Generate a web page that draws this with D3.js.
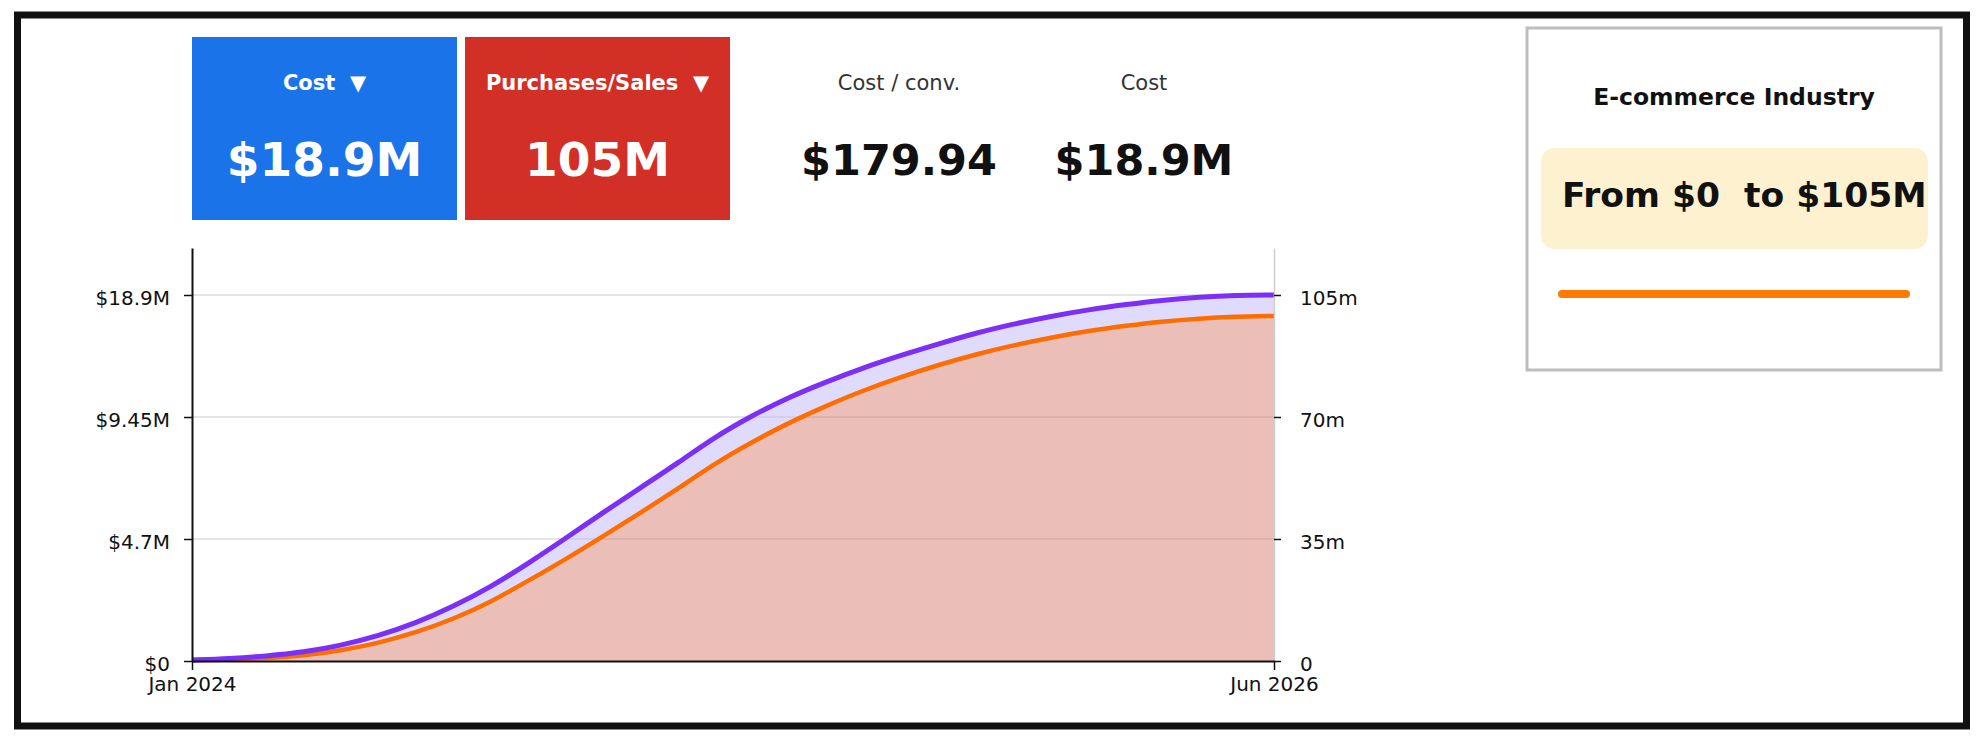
<!DOCTYPE html>
<html>
<head>
<meta charset="utf-8">
<script src="https://cdn.jsdelivr.net/npm/d3@7/dist/d3.min.js"></script>
<style>
  html, body { margin: 0; padding: 0; background: #fff; }
  svg { display: block; font-family: "DejaVu Sans", sans-serif; }
</style>
</head>
<body>
<svg id="chart" width="1980" height="739"></svg>
<script>
/* ============================================
   DATA
   ============================================ */

const months = [
  "2024-01", "2024-02", "2024-03", "2024-04", "2024-05", "2024-06",
  "2024-07", "2024-08", "2024-09", "2024-10", "2024-11", "2024-12",
  "2025-01", "2025-02", "2025-03", "2025-04", "2025-05", "2025-06",
  "2025-07", "2025-08", "2025-09", "2025-10", "2025-11", "2025-12",
  "2026-01", "2026-02", "2026-03", "2026-04", "2026-05", "2026-06"
];

// purple line, right axis (millions)
const purchases = [
  0.3, 0.7, 1.4, 2.5, 4.4, 7.2, 10.8, 15.6, 21.3, 28,
  35.3, 42.6, 49.8, 57, 64, 70.3, 75.6, 80.1, 84.1, 87.7,
  91, 94.1, 96.7, 98.9, 100.8, 102.3, 103.5, 104.4, 104.9, 105
];

// orange line, left axis ($M)
const cost = [
  0.05, 0.07, 0.14, 0.27, 0.54, 0.92, 1.46, 2.16, 3.06, 4.14,
  5.27, 6.44, 7.67, 8.93, 10.15, 11.29, 12.29, 13.18, 13.97, 14.67,
  15.3, 15.84, 16.31, 16.7, 17.05, 17.32, 17.53, 17.69, 17.78, 17.82
];

const leftTickValues = [0, 6.3, 12.6, 18.9];
const leftTickLabels = ["$0", "$4.7M", "$9.45M", "$18.9M"];
const rightTickValues = [0, 35, 70, 105];
const rightTickLabels = ["0", "35m", "70m", "105m"];
const xTickLabels = ["Jan 2024", "Jun 2026"];

const kpiTiles = [
  { label: "Cost", value: "$18.9M", fill: "#1a73e8" },
  { label: "Purchases/Sales", value: "105M", fill: "#d22f27" }
];
const kpiPlain = [
  { label: "Cost / conv.", value: "$179.94" },
  { label: "Cost", value: "$18.9M" }
];

const industryTitle = "E-commerce Industry";
const industryRange = "From $0\u00a0\u00a0to $105M";

/* ============================================
   LAYOUT
   ============================================ */

const svg = d3.select('#chart');
const parseMonth = d3.timeParse('%Y-%m');
const dates = months.map(parseMonth);

const plot = { left: 192, right: 1274, top: 248, bottom: 661 };

// outer frame
svg.append('rect')
  .attr('x', 17.5).attr('y', 15)
  .attr('width', 1949).attr('height', 711)
  .attr('fill', '#fff')
  .attr('stroke', '#111')
  .attr('stroke-width', 7);

/* ---------- KPI tiles ---------- */
const tileW = 265, tileH = 183, tileY = 37;
const tileX = d3.scalePoint().domain(kpiTiles.map(d => d.label)).range([192, 465]);

const tiles = svg.append('g').selectAll('g')
  .data(kpiTiles)
  .join('g')
  .attr('transform', d => `translate(${tileX(d.label)},${tileY})`);

tiles.append('rect')
  .attr('width', tileW).attr('height', tileH)
  .attr('fill', d => d.fill);

tiles.append('text')
  .attr('x', tileW / 2).attr('y', 53)
  .attr('text-anchor', 'middle')
  .attr('fill', '#fff')
  .attr('font-size', 21).attr('font-weight', 'bold')
  .text(d => d.label + '\u00a0\u00a0\u25BC');

tiles.append('text')
  .attr('x', tileW / 2).attr('y', 139)
  .attr('text-anchor', 'middle')
  .attr('fill', '#fff')
  .attr('font-size', 47).attr('font-weight', 'bold')
  .text(d => d.value);

/* ---------- plain KPIs ---------- */
const plainX = d3.scalePoint().domain(kpiPlain.map(d => d.label)).range([899, 1144]);

const plain = svg.append('g').selectAll('g')
  .data(kpiPlain)
  .join('g')
  .attr('transform', d => `translate(${plainX(d.label)},0)`);

plain.append('text')
  .attr('y', 90)
  .attr('text-anchor', 'middle')
  .attr('fill', '#333')
  .attr('font-size', 21)
  .text(d => d.label);

plain.append('text')
  .attr('y', 175)
  .attr('text-anchor', 'middle')
  .attr('fill', '#111')
  .attr('font-size', 43).attr('font-weight', 'bold')
  .text(d => d.value);

/* ============================================
   CHART
   ============================================ */

const x = d3.scaleTime()
  .domain(d3.extent(dates))
  .range([plot.left, plot.right]);

const yRight = d3.scaleLinear()
  .domain([0, 105 * 413 / 366])
  .range([plot.bottom, plot.top]);

const yLeft = d3.scaleLinear()
  .domain([0, 18.9 * 413 / 366])
  .range([plot.bottom, plot.top]);

// gridlines
svg.append('g')
  .selectAll('line')
  .data(rightTickValues.slice(1))
  .join('line')
  .attr('x1', plot.left).attr('x2', plot.right)
  .attr('y1', d => yRight(d)).attr('y2', d => yRight(d))
  .attr('stroke', '#dcdcdc')
  .attr('stroke-width', 1.5);

const pts = dates.map((d, i) => ({
  date: d,
  top: yRight(purchases[i]),
  low: yLeft(cost[i])
}));

const curve = d3.curveBasis;

// band between the two lines
svg.append('path')
  .datum(pts)
  .attr('fill', '#bdb8fa')
  .attr('fill-opacity', 0.5)
  .attr('d', d3.area().curve(curve)
    .x(d => x(d.date))
    .y0(d => d.low)
    .y1(d => d.top));

// area under the orange line
svg.append('path')
  .datum(pts)
  .attr('fill', '#d8806f')
  .attr('fill-opacity', 0.5)
  .attr('d', d3.area().curve(curve)
    .x(d => x(d.date))
    .y0(plot.bottom)
    .y1(d => d.low));

svg.append('path')
  .datum(pts)
  .attr('fill', 'none')
  .attr('stroke', '#ff6d00')
  .attr('stroke-width', 4.5)
  .attr('d', d3.line().curve(curve).x(d => x(d.date)).y(d => d.low));

svg.append('path')
  .datum(pts)
  .attr('fill', 'none')
  .attr('stroke', '#7b2ff7')
  .attr('stroke-width', 5)
  .attr('d', d3.line().curve(curve).x(d => x(d.date)).y(d => d.top));

/* ---------- axes ---------- */
const leftAxis = svg.append('g')
  .attr('transform', `translate(${plot.left},0)`)
  .call(d3.axisLeft(yLeft)
    .tickValues(leftTickValues)
    .tickFormat((d, i) => leftTickLabels[i])
    .tickSize(8).tickPadding(14).tickSizeOuter(0));

const rightAxis = svg.append('g')
  .attr('transform', `translate(${plot.right},0)`)
  .call(d3.axisRight(yRight)
    .tickValues(rightTickValues)
    .tickFormat((d, i) => rightTickLabels[i])
    .tickSize(7).tickPadding(19).tickSizeOuter(0));

const bottomAxis = svg.append('g')
  .attr('transform', `translate(0,${plot.bottom})`)
  .call(d3.axisBottom(x)
    .tickValues(d3.extent(dates))
    .tickFormat((d, i) => xTickLabels[i])
    .tickSize(9).tickPadding(7).tickSizeOuter(0));

[leftAxis, rightAxis, bottomAxis].forEach(a => {
  a.selectAll('text')
    .attr('font-family', '"DejaVu Sans", sans-serif')
    .attr('font-size', 20)
    .attr('fill', '#111');
  a.selectAll('.tick line').attr('stroke', '#111').attr('stroke-width', 1.5);
});

leftAxis.select('.domain').attr('stroke', '#111').attr('stroke-width', 2);
bottomAxis.select('.domain').attr('stroke', '#111').attr('stroke-width', 2);
rightAxis.select('.domain').attr('stroke', '#cfcfcf').attr('stroke-width', 1.5);
rightAxis.selectAll('text').attr('dy', '0.45em');
leftAxis.selectAll('text').attr('dy', '0.45em');

/* ============================================
   INDUSTRY PANEL
   ============================================ */

const panel = svg.append('g');

panel.append('rect')
  .attr('x', 1527).attr('y', 28)
  .attr('width', 414).attr('height', 342)
  .attr('fill', '#fff')
  .attr('stroke', '#bdbdbd')
  .attr('stroke-width', 3);

panel.append('text')
  .attr('x', 1734).attr('y', 105)
  .attr('text-anchor', 'middle')
  .attr('fill', '#111')
  .attr('font-size', 23.5).attr('font-weight', 'bold')
  .text(industryTitle);

panel.append('rect')
  .attr('x', 1541).attr('y', 148)
  .attr('width', 387).attr('height', 101)
  .attr('rx', 14)
  .attr('fill', '#fdf1cf');

panel.append('text')
  .attr('x', 1562).attr('y', 207)
  .attr('fill', '#111')
  .attr('font-size', 34.5).attr('font-weight', 'bold')
  .text(industryRange);

panel.append('line')
  .attr('x1', 1562).attr('x2', 1906)
  .attr('y1', 294).attr('y2', 294)
  .attr('stroke', '#ff7a00')
  .attr('stroke-width', 8)
  .attr('stroke-linecap', 'round');
</script>
</body>
</html>
